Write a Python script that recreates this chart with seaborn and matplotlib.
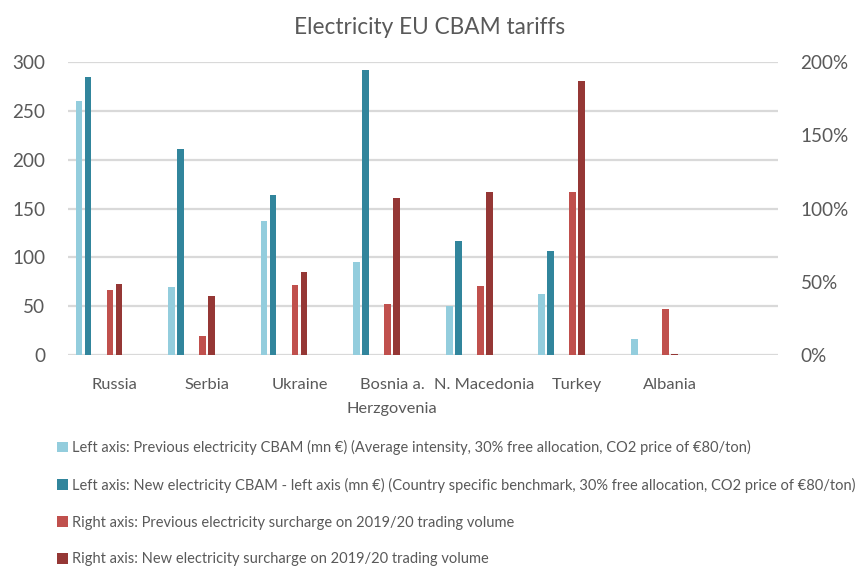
import numpy as np
import pandas as pd
import matplotlib
matplotlib.use("Agg")
import matplotlib.pyplot as plt
from matplotlib import font_manager
from matplotlib.patches import Patch
from matplotlib.ticker import FuncFormatter
import seaborn as sns

# ---------------- data ----------------
countries = ["Russia", "Serbia", "Ukraine", "Bosnia a.\nHerzgovenia",
             "N. Macedonia", "Turkey", "Albania"]
prev_cbam = [260, 70, 137, 95, 50, 63, 16]          # left axis, mn €
new_cbam = [285, 211, 164, 292, 117, 107, 0.3]      # left axis, mn €
prev_surcharge = [44.4, 13.0, 47.6, 34.9, 47.3, 111.2, 31.6]   # right axis, %
new_surcharge = [48.5, 40.5, 56.5, 107.5, 111.4, 187.2, 0.8]   # right axis, %
left_ticks = [0, 50, 100, 150, 200, 250, 300]
right_ticks = [0, 50, 100, 150, 200]
labels = [
    "Left axis: Previous electricity CBAM (mn €) (Average intensity, 30% free allocation, CO2 price of €80/ton)",
    "Left axis: New electricity CBAM - left axis (mn €) (Country specific benchmark, 30% free allocation, CO2 price of €80/ton)",
    "Right axis: Previous electricity surcharge on 2019/20 trading volume",
    "Right axis: New electricity surcharge on 2019/20 trading volume",
]
colors = ["#93CDDD", "#31859C", "#C0504D", "#953735"]

# ---------------- style ----------------
sns.set_theme(style="white")
names = {f.name for f in font_manager.fontManager.ttflist}
if "Liberation Sans Narrow" in names:
    FONT, k = "Liberation Sans Narrow", 1.0
else:
    FONT, k = "Lato", 0.88
plt.rcParams["font.family"] = [FONT, "DejaVu Sans"]
TXT = "#595959"
GRID = "#D9D9D9"

fig = plt.figure(figsize=(8.62, 5.67), dpi=100)
ax = fig.add_axes([68 / 862, 1 - 355 / 567, 710 / 862, (355 - 62.3) / 567])
ax2 = ax.twinx()

idx = np.arange(len(countries))
offsets = [-0.382, -0.285, -0.047, 0.050]   # bar placement within group
bar_w = 0.072

df = pd.DataFrame({"idx": idx, "prev_cbam": prev_cbam, "new_cbam": new_cbam,
                   "prev_s": prev_surcharge, "new_s": new_surcharge})

for col, off, c, a in zip(["prev_cbam", "new_cbam", "prev_s", "new_s"],
                          offsets, colors, [ax, ax, ax2, ax2]):
    sns.barplot(x=df["idx"] + off, y=df[col], native_scale=True, width=bar_w,
                color=c, saturation=1, ax=a, orient="x", linewidth=0,
                errorbar=None)

for a in (ax, ax2):
    for s in a.spines.values():
        s.set_visible(False)
    a.set_xlabel("")
    a.set_ylabel("")

ax.set_xlim(-0.5, 7.17)
ax.set_ylim(0, 300)
ax2.set_ylim(0, 200)
ax.set_yticks(left_ticks)
ax2.set_yticks(right_ticks)
ax2.yaxis.set_major_formatter(FuncFormatter(lambda v, p: f"{v:.0f}%"))
ax.set_xticks(idx)
ax.set_xticklabels(countries, linespacing=1.95)

ax.set_axisbelow(True)
ax.grid(axis="y", color=GRID, linewidth=1.6)
ax.grid(axis="x", visible=False)
ax2.grid(False)

ax.tick_params(axis="y", length=0, pad=16.5, labelsize=15.5 * k, labelcolor=TXT)
ax2.tick_params(axis="y", length=0, pad=16.3, labelsize=15.5 * k, labelcolor=TXT)
ax.tick_params(axis="x", length=0, pad=16.5, labelsize=13.4 * k, labelcolor=TXT)

fig.text(0.4985, 1 - 34 / 567, "Electricity EU CBAM tariffs", ha="center",
         va="baseline", fontsize=18.5 * k, color=TXT)

handles = [Patch(facecolor=c, edgecolor="none") for c in colors]
leg = fig.legend(handles, labels, loc="upper left",
                 bbox_to_anchor=(57 / 862, 1 - 440 / 567),
                 frameon=False, fontsize=11.95 * k, labelcolor=TXT,
                 handlelength=0.75, handleheight=0.75, handletextpad=0.27,
                 labelspacing=1.56, borderaxespad=0, borderpad=0)

fig.savefig("out.png", dpi=100)
